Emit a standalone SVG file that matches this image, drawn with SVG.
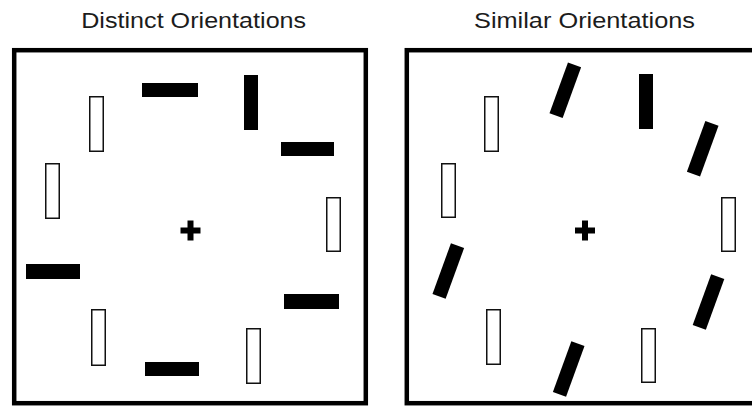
<svg xmlns="http://www.w3.org/2000/svg" width="752" height="407" viewBox="0 0 752 407">
  <style>
    .title { font-family: "Liberation Sans", Arial, sans-serif; font-size: 22.5px; fill: #1c1c1c; text-anchor: middle; }
    .frame { fill: none; stroke: #000; stroke-width: 4.5; }
    .solid { fill: #000; }
    .hollow { fill: #fff; stroke: #111; stroke-width: 1.5; }
    .fix { stroke: #000; stroke-width: 6; stroke-linecap: butt; }
  </style>
  <defs>
    <!-- tilted bar, centred on its own origin -->
    <rect id="tilt" class="solid" x="-7" y="-27" width="14" height="54" transform="rotate(20)"/>
    <!-- fixation cross -->
    <g id="cross">
      <line class="fix" x1="-10" y1="0" x2="10" y2="0"/>
      <line class="fix" x1="0" y1="-10" x2="0" y2="10"/>
    </g>
  </defs>
  <rect width="752" height="407" fill="#fff"/>

  <!-- Left panel: distinct orientations -->
  <g id="panel-distinct">
    <text class="title" x="193.7" y="28.4" textLength="225" lengthAdjust="spacingAndGlyphs">Distinct Orientations</text>
    <rect class="frame" x="14.2" y="50.2" width="351.6" height="353"/>
    <g id="distinct-items">
      <rect id="d-h1" class="solid" x="142" y="83" width="56" height="14"/>
      <rect id="d-v1" class="solid" x="244" y="75" width="14" height="55"/>
      <rect id="d-h2" class="solid" x="281" y="142" width="53" height="14"/>
      <rect id="d-h3" class="solid" x="26" y="264" width="54" height="15"/>
      <rect id="d-h4" class="solid" x="284" y="294" width="55" height="15"/>
      <rect id="d-h5" class="solid" x="145" y="362" width="54" height="14"/>
      <rect id="d-o1" class="hollow" x="89.75" y="96.75" width="13.5" height="54.5"/>
      <rect id="d-o2" class="hollow" x="45.75" y="163.75" width="13.5" height="54.5"/>
      <rect id="d-o3" class="hollow" x="326.75" y="197.75" width="13.5" height="53.5"/>
      <rect id="d-o4" class="hollow" x="91.75" y="309.75" width="13.5" height="55.5"/>
      <rect id="d-o5" class="hollow" x="246.75" y="328.75" width="13.5" height="54.5"/>
      <use id="d-fix" href="#cross" x="190.5" y="230.5"/>
    </g>
  </g>

  <!-- Right panel: similar orientations -->
  <g id="panel-similar">
    <text class="title" x="584.5" y="28.4" textLength="221" lengthAdjust="spacingAndGlyphs">Similar Orientations</text>
    <rect class="frame" x="406.8" y="50.2" width="360" height="353"/>
    <g id="similar-items">
      <rect id="s-v1" class="solid" x="639" y="74" width="14" height="55"/>
      <use id="s-t1" href="#tilt" x="565.3" y="90.3"/>
      <use id="s-t2" href="#tilt" x="702.7" y="148.7"/>
      <use id="s-t3" href="#tilt" x="448.3" y="271"/>
      <use id="s-t4" href="#tilt" x="708.5" y="302"/>
      <use id="s-t5" href="#tilt" x="568.7" y="369"/>
      <rect id="s-o1" class="hollow" x="484.75" y="96.75" width="13.5" height="54.5"/>
      <rect id="s-o2" class="hollow" x="441.75" y="163.75" width="13.5" height="53.5"/>
      <rect id="s-o3" class="hollow" x="721.75" y="197.75" width="13.5" height="53.5"/>
      <rect id="s-o4" class="hollow" x="486.75" y="309.75" width="13.5" height="54.5"/>
      <rect id="s-o5" class="hollow" x="641.75" y="328.75" width="13.5" height="53.5"/>
      <use id="s-fix" href="#cross" x="585" y="230.5"/>
    </g>
  </g>
</svg>
